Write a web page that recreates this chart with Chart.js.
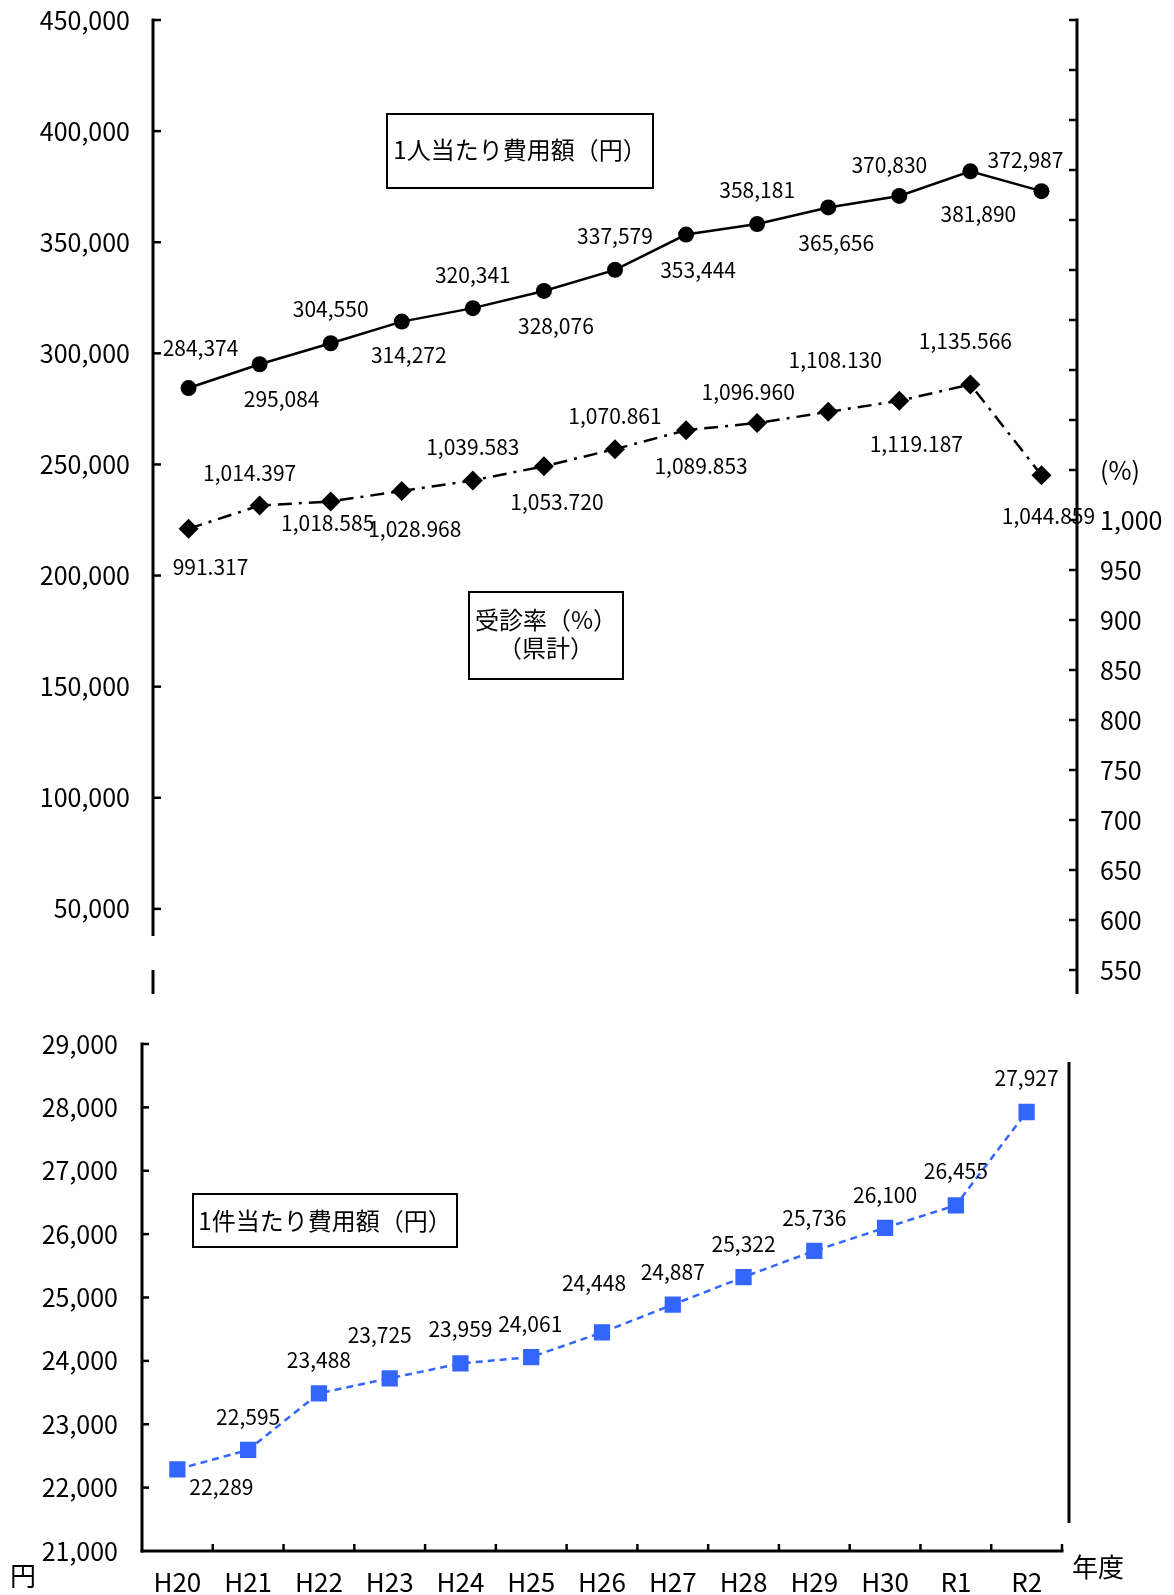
<!DOCTYPE html>
<html lang="ja">
<head>
<meta charset="utf-8">
<title>医療費の推移</title>
<script src="https://cdn.jsdelivr.net/npm/chart.js@4.4.1/dist/chart.umd.min.js"></script>
<style>
  html, body { margin: 0; padding: 0; background: #fff; }
  #wrap { position: relative; width: 1174px; height: 1595px; overflow: hidden; }
  canvas { position: absolute; left: 0; }
  #topChart { top: 0; }
  #bottomChart { top: 1030px; }
</style>
</head>
<body>
<div id="wrap">
  <canvas id="topChart" width="1174" height="1030"></canvas>
  <canvas id="bottomChart" width="1174" height="565"></canvas>
</div>
<script>
// ---- data ----
const years = ['H20', 'H21', 'H22', 'H23', 'H24', 'H25', 'H26', 'H27', 'H28', 'H29', 'H30', 'R1', 'R2'];

// 1人当たり費用額（円）
const costPerPerson = [284374, 295084, 304550, 314272, 320341, 328076, 337579, 353444, 358181, 365656, 370830, 381890, 372987];

// 受診率（%）（県計）
const visitRate = [991.317, 1014.397, 1018.585, 1028.968, 1039.583, 1053.720, 1070.861, 1089.853, 1096.960, 1108.130, 1119.187, 1135.566, 1044.859];

// 1件当たり費用額（円）
const costPerCase = [22289, 22595, 23488, 23725, 23959, 24061, 24448, 24887, 25322, 25736, 26100, 26455, 27927];

// axis ticks
const yenTicks = [50000, 100000, 150000, 200000, 250000, 300000, 350000, 400000, 450000];
const rateTicks = [550, 600, 650, 700, 750, 800, 850, 900, 950, 1000, 1050, 1100, 1150, 1200, 1250, 1300, 1350, 1400, 1450, 1500];
const rateLabelMax = 1000;   // ticks above this carry no number
const rateUnitTick = 1050;   // this tick carries the unit
const caseTicks = [21000, 22000, 23000, 24000, 25000, 26000, 27000, 28000, 29000];

// ---- label placement (pixel offsets from each point) ----
const perPersonLabelPos = [[12,-40],[22,35],[0,-34],[7,33],[0,-33],[12,35],[0,-34],[12,35],[0,-34],[8,36],[-10,-31],[8,43],[-16,-31]];
const visitRateLabelPos = [[22,38],[-10,-33],[-3,22],[13,38],[0,-33],[13,36],[0,-33],[15,36],[-9,-31],[7,-52],[17,43],[-5,-43],[7,41]];
const perCaseLabelPos = [[44,18],[0,-33],[0,-33],[-10,-43],[0,-34],[-1,-33],[-8,-49],[0,-33],[0,-33],[0,-33],[0,-33],[0,-34],[0,-34]];

const FONT = "'Noto Sans CJK JP', 'Noto Sans', sans-serif";
Chart.defaults.font.family = FONT;
Chart.defaults.color = '#000';
Chart.defaults.animation = false;

const fmtInt = v => v.toLocaleString('en-US');
const fmt3 = v => v.toLocaleString('en-US', { minimumFractionDigits: 3, maximumFractionDigits: 3 });

function seg(ctx, x1, y1, x2, y2) {
  ctx.beginPath(); ctx.moveTo(x1, y1); ctx.lineTo(x2, y2); ctx.stroke();
}

// keep the plot area exactly where the layout padding puts it
function noEdgePadding(s) {
  s.paddingTop = 0; s.paddingBottom = 0; s.paddingLeft = 0; s.paddingRight = 0;
}

// value labels next to each point
const valueLabels = {
  id: 'valueLabels',
  afterDatasetsDraw(chart) {
    const ctx = chart.ctx;
    chart.data.datasets.forEach((ds, i) => {
      if (!ds.labelPos) return;
      const meta = chart.getDatasetMeta(i);
      ctx.save();
      ctx.font = `21px ${FONT}`;
      ctx.fillStyle = '#000';
      ctx.textAlign = 'center';
      ctx.textBaseline = 'middle';
      meta.data.forEach((pt, j) => {
        const [dx, dy] = ds.labelPos[j];
        ctx.fillText(ds.labelFormat(ds.data[j]), pt.x + dx, pt.y + dy);
      });
      ctx.restore();
    });
  }
};

// framed captions
function drawCaption(ctx, x, y, w, h, lines, lineYs) {
  ctx.save();
  ctx.fillStyle = '#fff';
  ctx.fillRect(x, y, w, h);
  ctx.strokeStyle = '#000';
  ctx.lineWidth = 2;
  ctx.strokeRect(x, y, w, h);
  ctx.fillStyle = '#000';
  ctx.font = `24px ${FONT}`;
  ctx.textAlign = 'center';
  ctx.textBaseline = 'middle';
  lines.forEach((t, k) => ctx.fillText(t, x + w / 2, lineYs[k]));
  ctx.restore();
}

// ---- upper chart: per-person cost and visit rate ----
const topFrame = {
  id: 'topFrame',
  beforeDatasetsDraw(chart) {
    const { ctx, chartArea: a, scales: { yL, yR } } = chart;
    ctx.save();
    ctx.strokeStyle = '#000';
    ctx.lineWidth = 3;
    // left axis, broken near the bottom
    seg(ctx, a.left, a.top - 1.5, a.left, a.bottom - 84);
    seg(ctx, a.left, a.bottom - 50, a.left, a.bottom - 26);
    // right axis
    seg(ctx, a.right, a.top - 1.5, a.right, a.bottom - 26);
    ctx.lineWidth = 2.5;
    yL.ticks.forEach(t => { const y = yL.getPixelForValue(t.value); seg(ctx, a.left, y, a.left + 8, y); });
    yR.ticks.forEach(t => { const y = yR.getPixelForValue(t.value); seg(ctx, a.right - 8, y, a.right, y); });
    ctx.restore();
  },
  afterDraw(chart) {
    const ctx = chart.ctx;
    drawCaption(ctx, 387, 114, 266, 74, ['1人当たり費用額（円）'], [150]);
    drawCaption(ctx, 469, 592, 154, 87, ['受診率（%）', '（県計）'], [620, 648]);
  }
};

new Chart(document.getElementById('topChart'), {
  type: 'line',
  data: {
    labels: years,
    datasets: [
      {
        label: '1人当たり費用額（円）',
        data: costPerPerson,
        yAxisID: 'yL',
        borderColor: '#000',
        backgroundColor: '#000',
        borderWidth: 2.5,
        pointStyle: 'circle',
        pointRadius: 8,
        pointBorderWidth: 0,
        tension: 0,
        labelPos: perPersonLabelPos,
        labelFormat: fmtInt
      },
      {
        label: '受診率（%）（県計）',
        data: visitRate,
        yAxisID: 'yR',
        borderColor: '#000',
        backgroundColor: '#000',
        borderWidth: 2.5,
        borderDash: [14, 7, 3, 7],
        pointStyle: 'rectRot',
        pointRadius: 10,
        pointBorderWidth: 0,
        tension: 0,
        labelPos: visitRateLabelPos,
        labelFormat: fmt3
      }
    ]
  },
  options: {
    responsive: false,
    layout: { padding: { top: 20, bottom: 7, left: 0, right: 0 } },
    plugins: { legend: { display: false }, tooltip: { enabled: false } },
    scales: {
      x: { type: 'category', offset: true, display: false },
      yL: {
        position: 'left',
        min: 0, max: 450000,
        grid: { display: false, drawTicks: false },
        border: { display: false },
        afterBuildTicks: s => { s.ticks = yenTicks.map(v => ({ value: v })); },
        afterFit: s => { s.width = 153; noEdgePadding(s); },
        ticks: { padding: 23, autoSkip: false, font: { size: 25 }, color: '#000', callback: v => fmtInt(v) }
      },
      yR: {
        position: 'right',
        min: 500, max: 1500,
        grid: { display: false, drawTicks: false },
        border: { display: false },
        afterBuildTicks: s => { s.ticks = rateTicks.map(v => ({ value: v })); },
        afterFit: s => { s.width = 97; noEdgePadding(s); },
        ticks: {
          padding: 23, autoSkip: false, font: { size: 25 }, color: '#000',
          callback: v => v === rateUnitTick ? '(%)' : (v > rateLabelMax ? '' : fmtInt(v))
        }
      }
    }
  },
  plugins: [topFrame, valueLabels]
});

// ---- lower chart: cost per case ----
const bottomFrame = {
  id: 'bottomFrame',
  beforeDatasetsDraw(chart) {
    const { ctx, chartArea: a, scales: { x, y } } = chart;
    ctx.save();
    ctx.strokeStyle = '#000';
    ctx.lineWidth = 3;
    seg(ctx, a.left, a.top - 1.5, a.left, a.bottom + 1.5);
    seg(ctx, a.left - 1.5, a.bottom, a.right + 1.5, a.bottom);
    // right-hand frame line
    seg(ctx, a.right + 7, a.top + 18, a.right + 7, a.bottom - 28);
    ctx.lineWidth = 2.5;
    y.ticks.forEach(t => {
      if (t.value === y.min) return;
      const py = y.getPixelForValue(t.value);
      seg(ctx, a.left, py, a.left + 7, py);
    });
    for (let i = 1; i <= years.length; i++) {
      const px = i < years.length
        ? (x.getPixelForValue(i - 1) + x.getPixelForValue(i)) / 2
        : a.right;
      seg(ctx, px, a.bottom, px, a.bottom - 7);
    }
    ctx.restore();
  },
  afterDraw(chart) {
    const ctx = chart.ctx;
    drawCaption(ctx, 193, 164, 264, 53, ['1件当たり費用額（円）'], [191]);
    ctx.save();
    ctx.fillStyle = '#000';
    ctx.font = `26px ${FONT}`;
    ctx.textAlign = 'center';
    ctx.textBaseline = 'middle';
    ctx.fillText('円', 23, 546);
    ctx.fillText('年度', 1098, 537);
    ctx.restore();
  }
};

new Chart(document.getElementById('bottomChart'), {
  type: 'line',
  data: {
    labels: years,
    datasets: [
      {
        label: '1件当たり費用額（円）',
        data: costPerCase,
        borderColor: '#3366ff',
        backgroundColor: '#3366ff',
        borderWidth: 2.5,
        borderDash: [7, 5],
        pointStyle: 'rect',
        pointRadius: 11.5,
        pointBorderWidth: 0,
        tension: 0,
        labelPos: perCaseLabelPos,
        labelFormat: fmtInt
      }
    ]
  },
  options: {
    responsive: false,
    layout: { padding: { top: 14, bottom: 0, left: 0, right: 112 } },
    plugins: { legend: { display: false }, tooltip: { enabled: false } },
    scales: {
      x: {
        type: 'category', offset: true,
        grid: { display: false, drawTicks: false },
        border: { display: false },
        afterFit: s => { s.height = 44; noEdgePadding(s); },
        ticks: { padding: 16, autoSkip: false, maxRotation: 0, font: { size: 26 }, color: '#000' }
      },
      y: {
        min: 21000, max: 29000,
        grid: { display: false, drawTicks: false },
        border: { display: false },
        afterBuildTicks: s => { s.ticks = caseTicks.map(v => ({ value: v })); },
        afterFit: s => { s.width = 142; noEdgePadding(s); },
        ticks: { padding: 24, autoSkip: false, font: { size: 25 }, color: '#000', callback: v => fmtInt(v) }
      }
    }
  },
  plugins: [bottomFrame, valueLabels]
});
</script>
</body>
</html>
